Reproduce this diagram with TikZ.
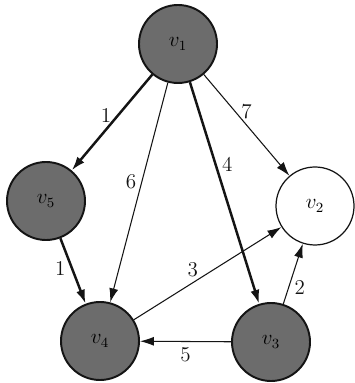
\documentclass[tikz,border=0pt]{standalone}
\usetikzlibrary{arrows.meta}
\definecolor{ink}{RGB}{20,20,20}
\definecolor{shade}{RGB}{108,108,108}
\definecolor{paper}{RGB}{255,255,255}
\tikzset{
  vertex/.style={circle, draw=ink, line width=1.1pt, fill=shade,
    minimum size=1.56cm, inner sep=0pt, font=\large},
  openVertex/.style={vertex, line width=0.7pt, fill=paper},
  heavyArrow/.style={-{Latex[length=2.8mm,width=1.8mm]}, line width=1.4pt, draw=ink},
  lightArrow/.style={-{Latex[length=2.8mm,width=1.8mm]}, line width=0.6pt, draw=ink},
  weight/.style={font=\large, text=ink, inner sep=3pt}
}

\begin{document}
\begin{tikzpicture}[x=1cm,y=1cm]

% Frame
\useasboundingbox (0,0) rectangle (7.08,7.66);
\fill[paper] (0,0) rectangle (7.08,7.66);

% Vertices
\node[vertex] (v1) at (3.56,6.78) {$v_1$};
\node[vertex] (v5) at (0.92,3.64) {$v_5$};
\node[openVertex] (v2) at (6.30,3.54) {$v_2$};
\node[vertex] (v4) at (2.00,0.84) {$v_4$};
\node[vertex] (v3) at (5.42,0.82) {$v_3$};

% Edges
\draw[heavyArrow] (v1) -- node[weight, pos=0.43, left] {1} (v5);
\draw[lightArrow] (v1) -- node[weight, pos=0.45, left] {6} (v4);
\draw[heavyArrow] (v1) -- node[weight, pos=0.37, right] {4} (v3);
\draw[lightArrow] (v1) -- node[weight, pos=0.50, above] {7} (v2);
\draw[heavyArrow] (v5) -- node[weight, pos=0.46, left] {1} (v4);
\draw[lightArrow] (v4) -- node[weight, pos=0.40, above] {3} (v2);
\draw[lightArrow] (v3) -- node[weight, pos=0.28, right] {2} (v2);
\draw[lightArrow] (v3) -- node[weight, below] {5} (v4);

\end{tikzpicture}
\end{document}
